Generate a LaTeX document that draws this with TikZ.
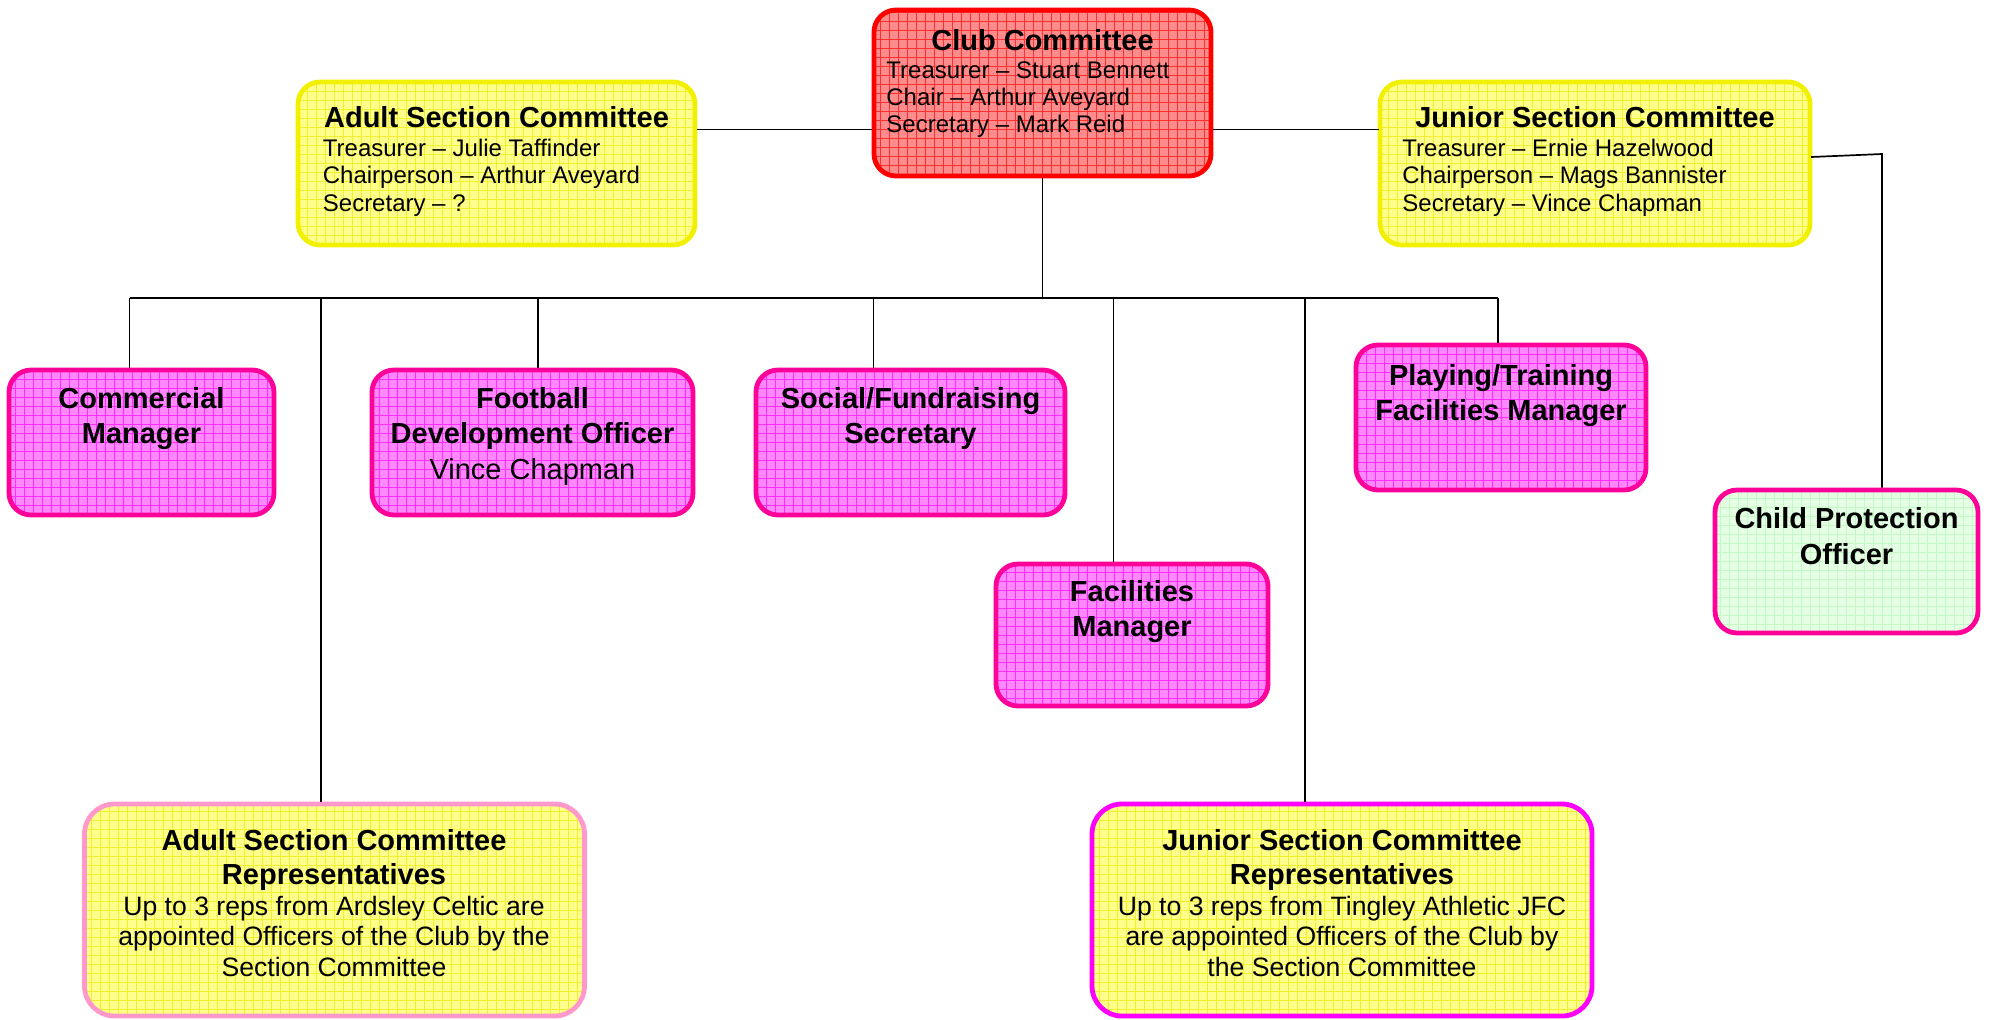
\documentclass[tikz,border=0pt]{standalone}
\usepackage{fontspec}
\setmainfont{Liberation Sans}
\definecolor{redfill}{HTML}{FF8C8C}
\definecolor{redgrid}{HTML}{FF3030}
\definecolor{redborder}{HTML}{FF0000}
\definecolor{yelfill}{HTML}{FFFF8C}
\definecolor{yelgrid}{HTML}{F0F030}
\definecolor{yelborder}{HTML}{F0F000}
\definecolor{magfill}{HTML}{FF88FF}
\definecolor{maggrid}{HTML}{FF30FF}
\definecolor{pinkborder}{HTML}{FF0099}
\definecolor{grnfill}{HTML}{E4FFE4}
\definecolor{grngrid}{HTML}{C4F8C4}
\definecolor{lpinkborder}{HTML}{FF99CC}
\definecolor{magborder}{HTML}{FF00FF}
\tikzset{
  box/.style 2 args={rectangle, rounded corners=11pt, line width=2.4pt, fill=#1, inner sep=0pt,
    path picture={\draw[#2, line width=0.4pt, step=4.5pt] (path picture bounding box.south west) grid (path picture bounding box.north east);}},
  ttl/.style={font=\fontsize{14.5}{17.8}\selectfont\bfseries, align=center, inner sep=0pt, anchor=north},
  bodytxt/.style={font=\fontsize{12}{13.7}\selectfont, align=left, inner sep=0pt, anchor=north west},
  reptitle/.style={font=\fontsize{14.5}{17.15}\selectfont\bfseries, align=center, inner sep=0pt, anchor=north},
  repbody/.style={font=\fontsize{13.3}{15.2}\selectfont, align=center, inner sep=0pt, anchor=north},
  conn/.style={line width=0.85pt, black}
}
\begin{document}
\begin{tikzpicture}[x=0.5pt,y=-0.5pt]
\useasboundingbox (0,0) rectangle (1991,1019);

% boxes
\node[box={redfill}{redgrid}, draw=redborder, minimum width=168.5pt, minimum height=83pt] (cc) at (1042.5,93) {};
\node[box={yelfill}{yelgrid}, draw=yelborder, minimum width=198.5pt, minimum height=81.5pt] (asc) at (496.5,163.5) {};
\node[box={yelfill}{yelgrid}, draw=yelborder, minimum width=215pt, minimum height=81.5pt] (jsc) at (1595,163.5) {};
\node[box={magfill}{maggrid}, draw=pinkborder, minimum width=132.5pt, minimum height=72.5pt] (cm) at (141.5,442.5) {};
\node[box={magfill}{maggrid}, draw=pinkborder, minimum width=160.5pt, minimum height=72.5pt] (fdo) at (532.5,442.5) {};
\node[box={magfill}{maggrid}, draw=pinkborder, minimum width=154.5pt, minimum height=72.5pt] (sfs) at (910.5,442.5) {};
\node[box={magfill}{maggrid}, draw=pinkborder, minimum width=145pt, minimum height=72.5pt] (ptf) at (1501,417.5) {};
\node[box={magfill}{maggrid}, draw=pinkborder, minimum width=136pt, minimum height=71pt] (fm) at (1132,635) {};
\node[box={grnfill}{grngrid}, draw=pinkborder, minimum width=131.5pt, minimum height=71.5pt] (cpo) at (1846.5,561.5) {};
\node[box={yelfill}{yelgrid}, draw=lpinkborder, rounded corners=15pt, minimum width=250pt, minimum height=106pt] (asr) at (334.5,910) {};
\node[box={yelfill}{yelgrid}, draw=magborder, rounded corners=15pt, minimum width=250pt, minimum height=106pt] (jsr) at (1342,910) {};

% texts
\node[ttl] (tcc) at (1042.5,28.7) {Club Committee};
\node[bodytxt] (bcc) at (886,60.9) {Treasurer – Stuart Bennett\\Chair – Arthur Aveyard\\Secretary – Mark Reid};
\node[ttl] (tasc) at (496.5,106) {Adult Section Committee};
\node[bodytxt] (basc) at (322.5,138.4) {Treasurer – Julie Taffinder\\Chairperson – Arthur Aveyard\\Secretary – ?};
\node[ttl] (tjsc) at (1595,106) {Junior Section Committee};
\node[bodytxt] (bjsc) at (1402,138.4) {Treasurer – Ernie Hazelwood\\Chairperson – Mags Bannister\\Secretary – Vince Chapman};
\node[ttl] (tcm) at (141.5,386.7) {Commercial\\Manager};
\node[ttl] (tfdo) at (532.5,386.7) {Football\\Development Officer\\\mdseries Vince Chapman};
\node[ttl] (tsfs) at (910.5,386.7) {Social/Fundraising\\Secretary};
\node[ttl] (tptf) at (1501,363.9) {Playing/Training\\Facilities Manager};
\node[ttl] (tfm) at (1132,579.8) {Facilities\\Manager};
\node[ttl] (tcpo) at (1846.5,507.3) {Child Protection\\Officer};
\node[reptitle] (tasr) at (334,828.6) {Adult Section Committee\\Representatives};
\node[repbody] (basr) at (334,895.6) {Up to 3 reps from Ardsley Celtic are\\appointed Officers of the Club by the\\Section Committee};
\node[reptitle] (tjsr) at (1342,828.6) {Junior Section Committee\\Representatives};
\node[repbody] (bjsr) at (1342,895.6) {Up to 3 reps from Tingley Athletic JFC\\are appointed Officers of the Club by\\the Section Committee};

% connectors
\coordinate (la) at (697,129.5);
\coordinate (lj) at (1379,129.5);
\draw[conn] (la) -- (la -| cc.west);
\draw[conn] (lj) -- (lj -| cc.east);
\coordinate (busL) at (129.5,298);
\coordinate (busR) at (1498,298);
\coordinate (b2) at (321,298);
\coordinate (b3) at (538,298);
\coordinate (b4) at (873.5,298);
\coordinate (b6) at (1113.5,298);
\coordinate (b7) at (1305,298);
\draw[conn] (cc.south) -- (cc.south |- busL);
\draw[conn] (busL) -- (busR);
\draw[conn] (busL) -- (busL |- cm.north);
\draw[conn] (b2) -- (b2 |- asr.north);
\draw[conn] (b3) -- (b3 |- fdo.north);
\draw[conn] (b4) -- (b4 |- sfs.north);
\draw[conn] (b6) -- (b6 |- fm.north);
\draw[conn] (b7) -- (b7 |- jsr.north);
\draw[conn] (busR) -- (busR |- ptf.north);
\coordinate (k1) at (1811,157);
\coordinate (k2) at (1882,154);
\draw[conn] (k1) -- (k2) -- (k2 |- cpo.north);
\end{tikzpicture}
\end{document}
